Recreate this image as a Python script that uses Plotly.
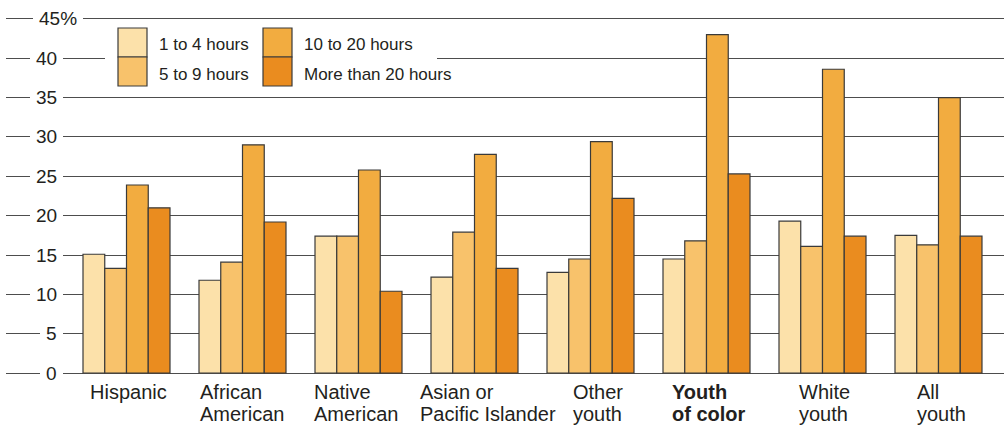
import plotly.graph_objects as go

categories = ["Hispanic", "African American", "Native American", "Asian or Pacific Islander",
              "Other youth", "Youth of color", "White youth", "All youth"]
series_names = ["1 to 4 hours", "5 to 9 hours", "10 to 20 hours", "More than 20 hours"]
hours_1_4 = [15.1, 11.8, 17.4, 12.2, 12.8, 14.5, 19.3, 17.5]
hours_5_9 = [13.3, 14.1, 17.4, 17.9, 14.5, 16.8, 16.1, 16.3]
hours_10_20 = [23.9, 29.0, 25.8, 27.8, 29.4, 43.0, 38.6, 35.0]
hours_20_plus = [21.0, 19.2, 10.4, 13.3, 22.2, 25.3, 17.4, 17.4]
series_values = [hours_1_4, hours_5_9, hours_10_20, hours_20_plus]
colors = ["#FCE1AA", "#F8C26B", "#F2AC40", "#EA8C1F"]

y_ticks = [0, 5, 10, 15, 20, 25, 30, 35, 40, 45]
y_tick_labels = ["0", "5", "10", "15", "20", "25", "30", "35", "40", "45%"]

label_line1 = ["Hispanic", "African", "Native", "Asian or", "Other", "<b>Youth</b>", "White", "All"]
label_line2 = ["", "American", "American", "Pacific Islander", "youth", "<b>of color</b>", "youth", "youth"]
label_shift = [-39, -45, -47, -57, -20, -37, -26, -24]

W, H = 1004, 426
ML, MR, MT, MB = 6, 0, 11, 45
PW, PH = W - ML - MR, H - MT - MB
FONT = "Liberation Sans, Arial, Helvetica, sans-serif"
TXT = "#231f20"

fig = go.Figure()
for name, vals, col in zip(series_names, series_values, colors):
    fig.add_trace(go.Bar(x=categories, y=vals, name=name, marker_color=col,
                         marker_line_color="#3a3a3a", marker_line_width=1.2,
                         showlegend=False, hoverinfo="x+y+name"))

def px_x(px):
    return (px - ML) / PW

def px_y(py):
    return (MT + PH - py) / PH

annotations = []
# x-axis category labels (two lines, left-aligned in block)
for cat, l1, l2, sh in zip(categories, label_line1, label_line2, label_shift):
    annotations.append(dict(x=cat, xref="x", y=0, yref="paper", xanchor="left", yanchor="middle",
                            xshift=sh, yshift=-(392 - (MT + PH)), text=l1, showarrow=False,
                            font=dict(family=FONT, size=20, color=TXT)))
    if l2:
        annotations.append(dict(x=cat, xref="x", y=0, yref="paper", xanchor="left", yanchor="middle",
                                xshift=sh, yshift=-(414 - (MT + PH)), text=l2, showarrow=False,
                                font=dict(family=FONT, size=20, color=TXT)))
# y tick labels with white background breaking the gridlines
for v, t in zip(y_ticks, y_tick_labels):
    right = 77 if t.endswith("%") else 57
    annotations.append(dict(x=0, xref="paper", y=v, yref="y", xanchor="right", yanchor="middle",
                            xshift=right - ML + 6, text=t, showarrow=False, bgcolor="white",
                            borderpad=6, borderwidth=0,
                            font=dict(family=FONT, size=19, color=TXT)))

shapes = []
# legend white box
shapes.append(dict(type="rect", xref="paper", yref="paper", x0=px_x(105), x1=px_x(437),
                   y0=px_y(92), y1=px_y(24), fillcolor="white", line_width=0, layer="above"))
leg_pos = [(118, 28), (118, 57), (263, 28), (263, 57)]
for (lx, ly), name, col in zip(leg_pos, series_names, colors):
    shapes.append(dict(type="rect", xref="paper", yref="paper", x0=px_x(lx), x1=px_x(lx + 29),
                       y0=px_y(ly + 29), y1=px_y(ly), fillcolor=col,
                       line=dict(color="#3a3a3a", width=1.2), layer="above"))
    annotations.append(dict(x=px_x(lx + 39), xref="paper", y=px_y(ly + 17), yref="paper",
                            xanchor="left", yanchor="middle", text=name, showarrow=False,
                            font=dict(family=FONT, size=17, color=TXT)))

fig.update_layout(
    width=W, height=H, margin=dict(l=ML, r=MR, t=MT, b=MB),
    paper_bgcolor="white", plot_bgcolor="white",
    barmode="group", bargap=0.25, bargroupgap=0,
    font=dict(family=FONT, color=TXT),
    xaxis=dict(range=[-1.0388, 7.5647], showticklabels=False, ticks="", showgrid=False,
               zeroline=False, showline=False, fixedrange=True),
    yaxis=dict(range=[-1, 46], tickvals=y_ticks, showticklabels=False, ticks="",
               showgrid=True, gridcolor="#4d4d4d", gridwidth=1.3, zeroline=False,
               showline=False, fixedrange=True),
    annotations=annotations, shapes=shapes,
)
fig.write_html("out.html", config={"displayModeBar": False},
               post_script="document.body.style.margin='0';document.body.style.padding='0';")
